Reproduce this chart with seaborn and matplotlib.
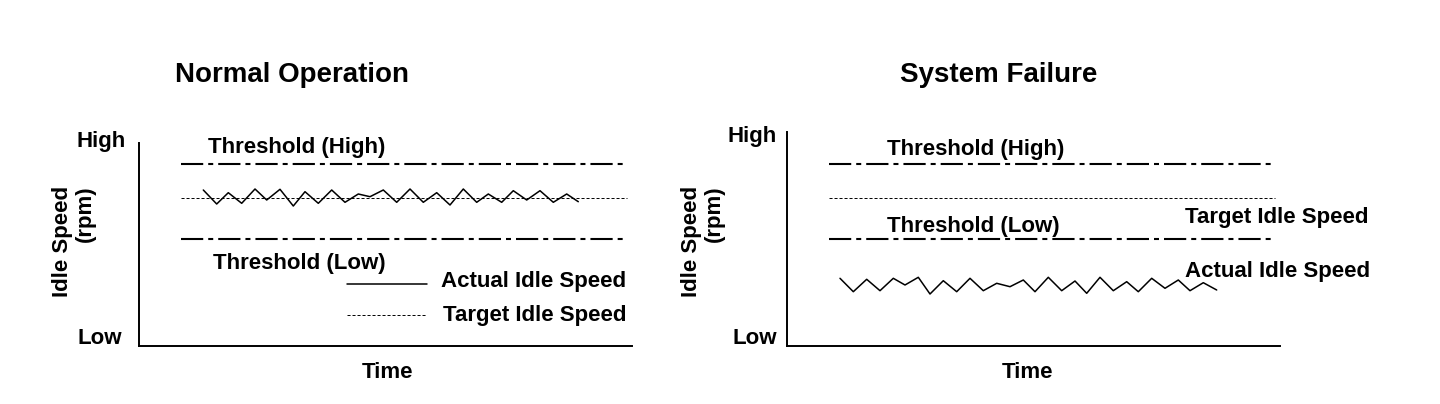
import matplotlib
matplotlib.use("Agg")
import matplotlib.pyplot as plt
import seaborn as sns

# Levels (arbitrary rpm units above the baseline of each panel)
THRESH_HIGH = 182
TARGET = 148
THRESH_LOW = 107
line_time = [42, 488]

# Actual idle speed - normal operation (oscillates around target)
normal_time = [64.3, 77.7, 89.3, 102.7, 116, 127.7, 141, 154.3, 166, 179.3,
               192.7, 206, 219.3, 231, 244.3, 257.7, 271, 284.3, 297.7, 311,
               324.3, 337.7, 349.3, 362.7, 374.3, 387.7, 401, 414.3, 427.7, 439.3]
normal_rpm = [156, 142, 153.3, 142.7, 157, 146, 156.7, 140, 154.3, 142.7,
              156, 143.7, 152, 149.3, 156, 143.7, 157, 143.7, 153.3, 141,
              157, 143.7, 152, 143.7, 155.3, 146, 155.3, 143.7, 152, 144.3]

# Actual idle speed - system failure (well below low threshold)
fail_time = [53, 66.3, 79.7, 93, 106.3, 118, 131.3, 143, 156.3, 169.7,
             183, 196.3, 209.7, 223, 236.3, 248, 261.3, 274.7, 288, 299.7,
             313, 326.3, 339.7, 351.3, 364.7, 378, 391.3, 403, 416.3, 429.7]
fail_rpm = [67.7, 54.3, 66.7, 55.3, 67.7, 61, 68.7, 52, 65.3, 54.3,
            67.7, 55.3, 62.7, 59.3, 66, 54.3, 68.7, 55.3, 65, 52.7,
            68.7, 55.3, 64.3, 54.3, 67.7, 57.7, 66, 55.3, 63.3, 56]

sns.set_theme(style="white")
plt.rcParams['font.family'] = ['Liberation Sans', 'DejaVu Sans']
plt.rcParams['text.color'] = 'black'
plt.rcParams['lines.scale_dashes'] = False

W, H = 1440, 404
fig = plt.figure(figsize=(14.4, 4.04), dpi=100)

def px_axes(left, right, top, bottom):
    return fig.add_axes([left / W, (H - bottom) / H, (right - left) / W, (bottom - top) / H])

ax1 = px_axes(139, 632, 143, 346)
ax2 = px_axes(787, 1280, 132, 346)

thresh_ls = (0, (16, 3.6, 3.6, 3.6))
target_ls = (0, (2.2, 1.4))
fs = 16

def base(ax, ytop):
    ax.set_xlim(0, 493)
    ax.set_ylim(0, ytop)
    ax.set_xticks([])
    ax.set_yticks([])
    for s in ['top', 'right']:
        ax.spines[s].set_visible(False)
    for s in ['left', 'bottom']:
        ax.spines[s].set_color('black')
        ax.spines[s].set_linewidth(1.4)
    ax.set_xlabel('')
    ax.set_ylabel('')

def levels(ax):
    for lvl in [THRESH_HIGH, THRESH_LOW]:
        sns.lineplot(x=line_time, y=[lvl, lvl], ax=ax, color='black', lw=1.5, linestyle=thresh_ls)
    sns.lineplot(x=line_time, y=[TARGET, TARGET], ax=ax, color='black', lw=0.7, linestyle=target_ls)

# Normal operation
levels(ax1)
sns.lineplot(x=normal_time, y=normal_rpm, ax=ax1, color='black', lw=1.1, sort=False)
sns.lineplot(x=[208, 288], y=[62, 62], ax=ax1, color='black', lw=1.1)
sns.lineplot(x=[208, 288], y=[31, 31], ax=ax1, color='black', lw=0.7, linestyle=target_ls)
base(ax1, 203)
kw = dict(fontsize=fs, fontweight='bold', va='center', clip_on=False, color='black')
ax1.text(69, 198, 'Threshold (High)', **kw)
ax1.text(74, 83, 'Threshold (Low)', **kw)
ax1.text(302, 64, 'Actual Idle Speed', **kw)
ax1.text(304, 31, 'Target Idle Speed', **kw)
ax1.text(-13, 205, 'High', ha='right', **kw)
ax1.text(-17, 7, 'Low', ha='right', **kw)

# System failure
levels(ax2)
sns.lineplot(x=fail_time, y=fail_rpm, ax=ax2, color='black', lw=1.1, sort=False)
base(ax2, 214)
ax2.text(100, 197, 'Threshold (High)', **kw)
ax2.text(100, 120, 'Threshold (Low)', **kw)
ax2.text(398, 129, 'Target Idle Speed', **kw)
ax2.text(398, 75, 'Actual Idle Speed', **kw)
ax2.text(-10, 210, 'High', ha='right', **kw)
ax2.text(-10, 7, 'Low', ha='right', **kw)

# Titles, axis labels
for cx, title in [(292, 'Normal Operation'), (999, 'System Failure')]:
    fig.text(cx / W, (H - 75) / H, title, fontsize=20, fontweight='bold', ha='center', va='center')
for cx in [387, 1027]:
    fig.text(cx / W, (H - 372) / H, 'Time', fontsize=fs, fontweight='bold', ha='center', va='center')
for cx in [74, 703]:
    fig.text(cx / W, (H - 241) / H, 'Idle Speed\n(rpm)', fontsize=fs, fontweight='bold',
             rotation=90, ha='center', va='center', multialignment='right', linespacing=1.15)

fig.savefig('out.png', dpi=100, facecolor='white')
